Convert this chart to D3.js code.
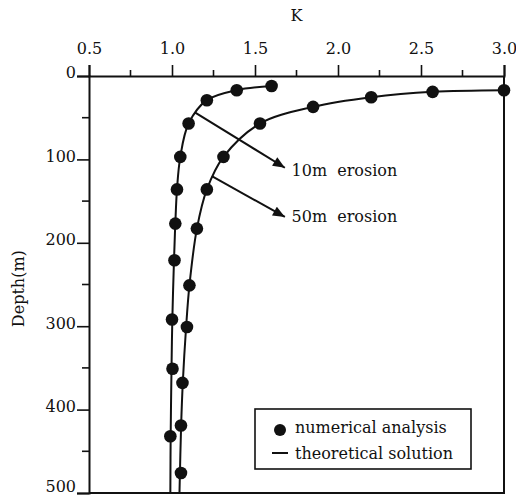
<!DOCTYPE html>
<html>
<head>
<meta charset="utf-8">
<script src="https://cdn.jsdelivr.net/npm/d3@7"></script>
<style>
  body { margin: 0; background: #fff; }
  text { font-family: "DejaVu Serif", serif; fill: #111; }
</style>
</head>
<body>
<div id="chart"></div>
<script>
// Numerical analysis points: [K, depth]
const num10 = [[1.60, 12], [1.39, 17], [1.21, 29], [1.10, 57], [1.05, 97], [1.03, 136],
  [1.02, 177], [1.015, 221], [1.00, 292], [1.003, 351], [0.99, 432]];
const num50 = [[3.00, 17], [2.57, 19], [2.20, 25.5], [1.85, 37], [1.53, 57], [1.31, 97],
  [1.21, 136], [1.15, 183], [1.105, 251], [1.09, 301], [1.063, 368], [1.054, 419], [1.054, 476]];

// Theoretical solution curves: [K, depth]
const theo10 = [[1.60, 12], [1.39, 17], [1.21, 29], [1.10, 57], [1.05, 97], [1.03, 136],
  [1.02, 177], [1.012, 221], [1.002, 292], [0.997, 351], [0.992, 432], [0.99, 500]];
const theo50 = [[3.00, 17], [2.57, 19], [2.20, 25.5], [1.85, 37], [1.53, 57], [1.31, 97],
  [1.21, 136], [1.15, 183], [1.105, 251], [1.085, 301], [1.065, 368], [1.055, 419], [1.045, 500]];

// Annotations: from curve point to arrow tip, then label
const notes = [
  { label: "10m  erosion", from: [1.14, 44], to: [1.68, 110], text: [1.72, 113] },
  { label: "50m  erosion", from: [1.24, 120], to: [1.68, 169], text: [1.72, 168] }
];

const xTicks = [0.5, 1.0, 1.5, 2.0, 2.5, 3.0];
const xMinor = [0.75, 1.25, 1.75, 2.25, 2.75];
const yTicks = [0, 100, 200, 300, 400, 500];
const yMinor = [50, 150, 250, 350, 450];

const width = 516, height = 497;
const margin = { top: 76, right: 12, bottom: 4, left: 89 };

const svg = d3.select("#chart").append("svg")
  .attr("width", width)
  .attr("height", height);

const x = d3.scaleLinear().domain([0.5, 3.0]).range([margin.left, width - margin.right]);
const y = d3.scaleLinear().domain([0, 500]).range([margin.top, height - margin.bottom]);

svg.append("defs").append("marker")
  .attr("id", "arrow")
  .attr("viewBox", "0 0 12 10")
  .attr("refX", 12).attr("refY", 5)
  .attr("markerWidth", 13).attr("markerHeight", 10)
  .attr("markerUnits", "userSpaceOnUse")
  .attr("orient", "auto")
  .append("path")
  .attr("d", "M0,0 L12,5 L0,10 Z")
  .attr("fill", "#111");

// Top axis
const xAxis = svg.append("g")
  .attr("transform", `translate(0,${margin.top})`)
  .call(d3.axisTop(x).tickValues(xTicks).tickFormat(d3.format(".1f")).tickSize(11).tickPadding(11));
xAxis.selectAll("text").style("font-size", "16px").style("font-family", "DejaVu Serif");
xAxis.selectAll(".minor").data(xMinor).join("line")
  .attr("class", "minor")
  .attr("x1", d => x(d)).attr("x2", d => x(d))
  .attr("y1", 0).attr("y2", -6)
  .attr("stroke", "#111").attr("stroke-width", 1.6);

// Left axis
const yAxis = svg.append("g")
  .attr("transform", `translate(${margin.left},0)`)
  .call(d3.axisLeft(y).tickValues(yTicks).tickSize(12).tickPadding(1));
yAxis.selectAll("text").style("font-size", "16px").style("font-family", "DejaVu Serif")
  .attr("dy", d => d === 500 ? "-0.12em" : "0.12em");
yAxis.selectAll(".minor").data(yMinor).join("line")
  .attr("class", "minor")
  .attr("y1", d => y(d)).attr("y2", d => y(d))
  .attr("x1", 0).attr("x2", -7)
  .attr("stroke", "#111").attr("stroke-width", 1.6);

svg.selectAll(".domain").attr("stroke", "#111").attr("stroke-width", 2);
svg.selectAll(".tick line").attr("stroke", "#111").attr("stroke-width", 1.6);

// Right and bottom frame
svg.append("path")
  .attr("d", `M${x(3.0)},${y(0)}V${y(500)}H${x(0.5)}`)
  .attr("fill", "none").attr("stroke", "#111").attr("stroke-width", 2);

// Axis titles
svg.append("text")
  .attr("x", x(1.75)).attr("y", 21)
  .attr("text-anchor", "middle")
  .style("font-size", "16px")
  .text("K");

svg.append("text")
  .attr("transform", `translate(24,${y(255)}) rotate(-90)`)
  .attr("text-anchor", "middle")
  .style("font-size", "16px")
  .text("Depth(m)");

// Theoretical curves
const line = d3.line()
  .x(d => x(d[0]))
  .y(d => y(d[1]))
  .curve(d3.curveCatmullRom.alpha(0.5));

svg.selectAll(".theo").data([theo10, theo50]).join("path")
  .attr("class", "theo")
  .attr("d", line)
  .attr("fill", "none")
  .attr("stroke", "#111")
  .attr("stroke-width", 2);

// Numerical dots
svg.selectAll(".dot").data(num10.concat(num50)).join("circle")
  .attr("class", "dot")
  .attr("cx", d => x(d[0]))
  .attr("cy", d => y(d[1]))
  .attr("r", 6.3)
  .attr("fill", "#111");

// Annotation arrows
svg.selectAll(".note").data(notes).join("line")
  .attr("class", "note")
  .attr("x1", d => x(d.from[0])).attr("y1", d => y(d.from[1]))
  .attr("x2", d => x(d.to[0])).attr("y2", d => y(d.to[1]))
  .attr("stroke", "#111").attr("stroke-width", 2)
  .attr("marker-end", "url(#arrow)");

svg.selectAll(".noteText").data(notes).join("text")
  .attr("class", "noteText")
  .attr("x", d => x(d.text[0])).attr("y", d => y(d.text[1]))
  .attr("dy", "0.35em")
  .style("font-size", "16px")
  .style("white-space", "pre")
  .attr("xml:space", "preserve")
  .text(d => d.label);

// Legend
const legend = svg.append("g").attr("transform", "translate(255,409)");
legend.append("rect")
  .attr("width", 216).attr("height", 60)
  .attr("fill", "#fff").attr("stroke", "#111").attr("stroke-width", 1.6);
legend.append("circle").attr("cx", 25).attr("cy", 21).attr("r", 6).attr("fill", "#111");
legend.append("line").attr("x1", 17).attr("x2", 33).attr("y1", 44).attr("y2", 44)
  .attr("stroke", "#111").attr("stroke-width", 2);
legend.append("text").attr("x", 40).attr("y", 18).attr("dy", "0.35em")
  .style("font-size", "16px").text("numerical analysis");
legend.append("text").attr("x", 40).attr("y", 44).attr("dy", "0.35em")
  .style("font-size", "16px").text("theoretical solution");
</script>
</body>
</html>
